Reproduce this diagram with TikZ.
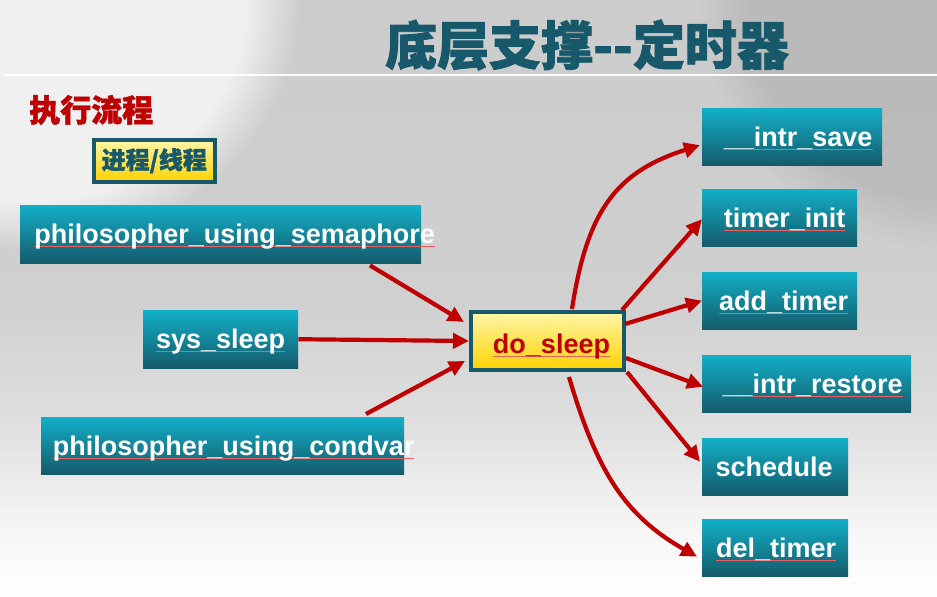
\documentclass[tikz,border=0pt]{standalone}
\usepackage{fontspec}
\setmainfont{Liberation Sans}
\newfontfamily\cjk{Noto Sans CJK SC}[BoldFeatures={FakeBold=1.6}]
\usetikzlibrary{arrows.meta,calc,fadings}
\definecolor{tealtop}{HTML}{12AFC7}
\definecolor{tealbot}{HTML}{145B6B}
\definecolor{darkteal}{HTML}{17596A}
\definecolor{arrowred}{HTML}{C00000}
\definecolor{wavyred}{HTML}{E86060}
\definecolor{ylwtop}{HTML}{FFF6A8}
\definecolor{ylwbot}{HTML}{FFD200}
\pgfdeclareverticalshading{bgshade}{100bp}{color(0bp)=(white); color(25bp)=(white); color(30bp)=(gray!6); color(35bp)=(gray!16); color(40bp)=(gray!26); color(50bp)=(gray!37); color(75bp)=(gray!40); color(100bp)=(gray!40)}
\newcommand\ctext[2]{\makebox[0pt]{\hspace*{#1}#2}}
\newsavebox\wvbox
\newcommand\wavy[1]{\sbox\wvbox{#1}\rlap{\color{wavyred}\rule[-3pt]{\wd\wvbox}{0.9pt}}\usebox\wvbox}
\begin{document}
\begin{tikzpicture}[x=1pt,y=-1pt,
  tbox/.style={anchor=north west, inner sep=0pt, minimum height=57pt, top color=tealtop, bottom color=tealbot, text=white, text height=19.5pt, text depth=0pt, font=\bfseries\fontsize{27}{27}\selectfont},
  ybox/.style={anchor=north west, inner sep=0pt, draw=darkteal, top color=ylwtop, bottom color=ylwbot},
  arr/.style={draw=arrowred, line width=4.2pt, -{Triangle[length=16pt,width=15pt]}}]
\useasboundingbox (0,0) rectangle (937,597);
\shade[shading=bgshade] (0,0) rectangle (937,597);
\fill[white, fill opacity=0.7, path fading=circle with fuzzy edge 20 percent] (-250,-250) rectangle (300,250);
\fill[gray!80, fill opacity=0.35, path fading=circle with fuzzy edge 20 percent] (700,-250) rectangle (1200,250);
% title
\node[font=\cjk\bfseries\fontsize{52}{52}\selectfont, text=darkteal] (title) at (587,45) {底层支撑-{}-定时器};
\coordinate (ruleL) at (5,75);
\coordinate (ruleR) at (937,75);
\draw[white, line width=1.5pt] (ruleL) -- (ruleR);
\node[font=\cjk\bfseries\fontsize{31}{31}\selectfont, text=arrowred, anchor=west, inner sep=0pt] (flow) at (29,110) {执行流程};
\node[ybox, line width=3.5pt, minimum width=121pt, minimum height=42pt, font=\cjk\bfseries\fontsize{24}{24}\selectfont, text=darkteal] (proc) at (92,138) {进程/线程};
% left boxes
\node[tbox, minimum width=401pt, minimum height=58pt] (sem) at (20,205) {\ctext{28pt}{\wavy{philosopher\_using\_semaphore}}};
\node[tbox, minimum width=155pt, minimum height=58pt] (sys) at (143,310) {\ctext{0pt}{\wavy{sys\_sleep}}};
\node[tbox, minimum width=363pt] (cond) at (41,417) {\ctext{22pt}{\wavy{philosopher\_using\_condvar}}};
% center
\node[ybox, line width=4pt, minimum width=153pt, minimum height=58pt, text=arrowred, text height=25pt, text depth=0pt, font=\bfseries\fontsize{27}{27}\selectfont] (dos) at (469,310) {\ctext{8pt}{\wavy{do\_sleep}}};
% right boxes
\node[tbox, minimum width=180pt] (isave) at (702,108) {\ctext{12pt}{\_\_\wavy{intr\_save}}};
\node[tbox, minimum width=155pt] (tinit) at (702,189) {\ctext{10pt}{\wavy{timer\_init}}};
\node[tbox, minimum width=155pt] (add) at (702,272) {\ctext{8pt}{\wavy{add\_timer}}};
\node[tbox, minimum width=209pt] (irest) at (702,355) {\ctext{12pt}{\_\_\wavy{intr\_restore}}};
\node[tbox, minimum width=146pt] (sched) at (702,438) {\ctext{-2pt}{schedule}};
\node[tbox, minimum width=146pt] (del) at (702,519) {\ctext{2pt}{\wavy{del\_timer}}};
% arrows in
\draw[arr] ($(sem.south west)+(350,2)$) -- ($(dos.north west)+(-5,12)$);
\draw[arr] (sys.east) -- (dos.west);
\draw[arr] ($(cond.north west)+(325,-3)$) -- ($(dos.south west)+(-4,-11)$);
% arrows out
\draw[arr] ($(dos.north west)+(103,-1)$) .. controls +(15,-97) and +(-85,27) .. ($(isave.west)+(-2,8.5)$);
\draw[arr] ($(dos.north east)+(-4,0)$) -- ($(tinit.west)+(0,1.5)$);
\draw[arr] ($(dos.north east)+(-1,14)$) -- (add.west);
\draw[arr] ($(dos.east)+(0,17)$) -- ($(irest.west)+(1,3)$);
\draw[arr] ($(dos.south east)+(1,0)$) -- ($(sched.west)+(-2,-5)$);
\draw[arr] ($(dos.south west)+(100,5)$) .. controls +(28,95) and +(-72,-41) .. ($(del.west)+(-5,9)$);
\end{tikzpicture}
\end{document}
